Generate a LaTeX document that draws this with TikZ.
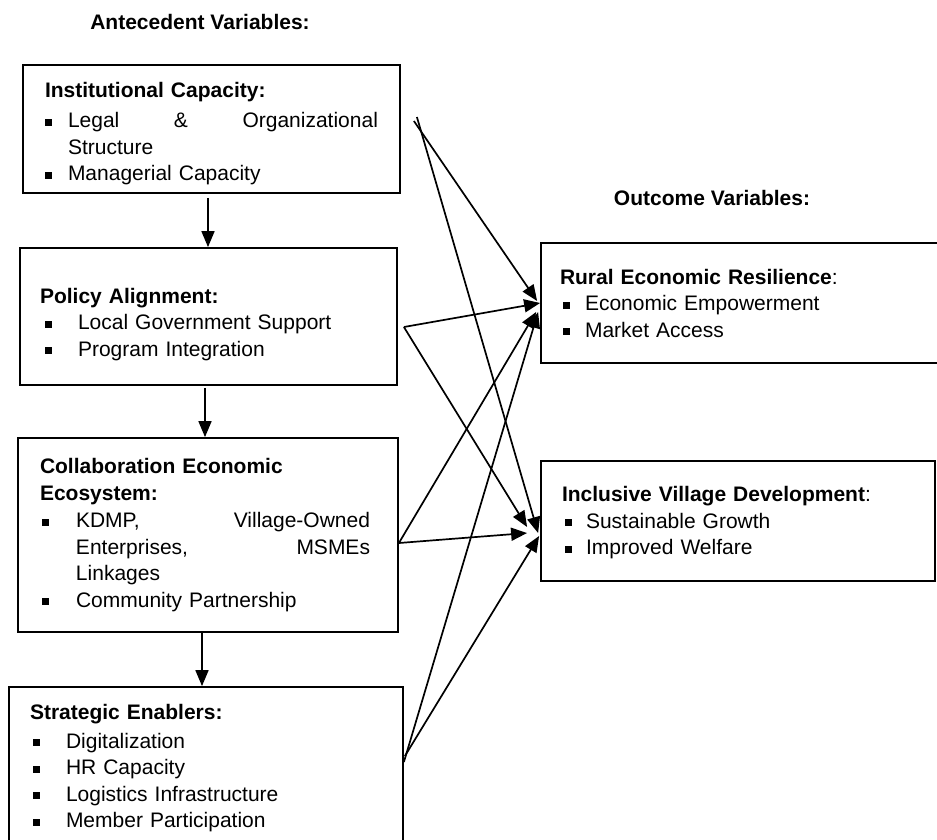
\documentclass[tikz,border=0pt]{standalone}
\usepackage{fontspec}
\setmainfont{Liberation Sans}
\usetikzlibrary{arrows.meta}

% square bullet: offset of the square, then indent of the text
\newcommand{\sqb}[2]{\makebox[#2][l]{\hspace*{#1}\rule[2pt]{7pt}{7pt}}}
% extra room above the first line
\newcommand{\topgap}[1]{\rule{0pt}{#1}}

\begin{document}
\begin{tikzpicture}[x=1pt, y=-1pt,
    box/.style={draw, line width=1.8pt, align=left, inner ysep=0pt,
        font=\fontsize{21pt}{26.5pt}\selectfont},
    head/.style={font=\fontsize{21pt}{26.5pt}\selectfont\bfseries},
    link/.style={line width=1.7pt, -{Triangle[length=16pt, width=13pt]}}]
    \useasboundingbox (0,0) rectangle (937,839);
    \fill[white] (0,0) rectangle (937,839);

    % headings
    \node[head] (antec) at (200,22) {Antecedent Variables:};
    \node[head] (outc) at (712,198) {Outcome Variables:};

    % antecedent boxes
    \node[box, inner xsep=22pt, text width=333pt, minimum width=377pt, minimum height=128pt] (inst) at (211.5,129) {%
        \topgap{24pt}{\bfseries Institutional Capacity:}\\[4pt]
        \sqb{0pt}{23pt}\hbox to 310pt{Legal\hfill\&\hfill Organizational}\\
        \hspace*{23pt}Structure\\
        \sqb{0pt}{23pt}Managerial Capacity};
    \node[box, inner xsep=20pt, text width=337pt, minimum width=377pt, minimum height=137pt] (policy) at (208.5,316.5) {%
        \topgap{31pt}{\bfseries Policy Alignment:}\\
        \sqb{5pt}{38pt}Local Government Support\\
        \sqb{5pt}{38pt}Program Integration};
    \node[box, inner xsep=22pt, text width=336pt, minimum width=380pt, minimum height=194pt] (collab) at (208,535) {%
        {\bfseries Collaboration Economic}\\
        {\bfseries Ecosystem:}\\[1pt]
        \sqb{2pt}{36pt}\hbox to 294pt{KDMP,\hfill Village-Owned}\\
        \hspace*{36pt}\hbox to 294pt{Enterprises,\hfill MSMEs}\\
        \hspace*{36pt}Linkages\\
        \sqb{2pt}{36pt}Community Partnership};
    \node[box, inner xsep=21pt, text width=352pt, minimum width=394pt, minimum height=163pt] (enabl) at (206,768.5) {%
        {\bfseries Strategic Enablers:}\\[2pt]
        \sqb{3pt}{36pt}Digitalization\\
        \sqb{3pt}{36pt}HR Capacity\\
        \sqb{3pt}{36pt}Logistics Infrastructure\\
        \sqb{3pt}{36pt}Member Participation};

    % outcome boxes
    \node[box, inner xsep=19pt, text width=381pt, minimum width=419pt, minimum height=120pt] (rural) at (750.5,303) {%
        {\bfseries Rural Economic Resilience}:\\
        \sqb{3pt}{25pt}Economic Empowerment\\
        \sqb{3pt}{25pt}Market Access};
    \node[box, inner xsep=21pt, text width=352pt, minimum width=394pt, minimum height=120pt] (inclus) at (738,521) {%
        \topgap{19pt}{\bfseries Inclusive Village Development}:\\
        \sqb{3pt}{24pt}Sustainable Growth\\
        \sqb{3pt}{24pt}Improved Welfare};

    % chain of antecedents
    \draw[link] ([shift={(-3.5,4)}]inst.south) -- ([xshift=-0.5pt]policy.north);
    \draw[link] ([shift={(-3.5,2)}]policy.south) -- ([xshift=-3pt]collab.north);
    \draw[link] ([xshift=-6pt]collab.south) -- ([xshift=-4pt]enabl.north);

    % antecedents to outcomes
    \draw[link] ([shift={(13,-8)}]inst.east) -- ([shift={(-3,-2)}]rural.west);
    \draw[link] ([shift={(16,-12)}]inst.east) -- ([shift={(-2,12)}]inclus.west);
    \draw[link] ([shift={(6,10.5)}]policy.east) -- (rural.west);
    \draw[link] ([shift={(6,10.5)}]policy.east) -- ([shift={(-13,6)}]inclus.west);
    \draw[link] ([yshift=-8pt]collab.east) -- ([shift={(-4,9)}]rural.west);
    \draw[link] ([yshift=-8pt]collab.east) -- ([shift={(-13,12)}]inclus.west);
    \draw[link] ([shift={(0,-6.5)}]enabl.east) -- ([shift={(-2,9)}]rural.west);
    \draw[link] ([shift={(1,-12.5)}]enabl.east) -- ([shift={(-1,15)}]inclus.west);
\end{tikzpicture}
\end{document}
